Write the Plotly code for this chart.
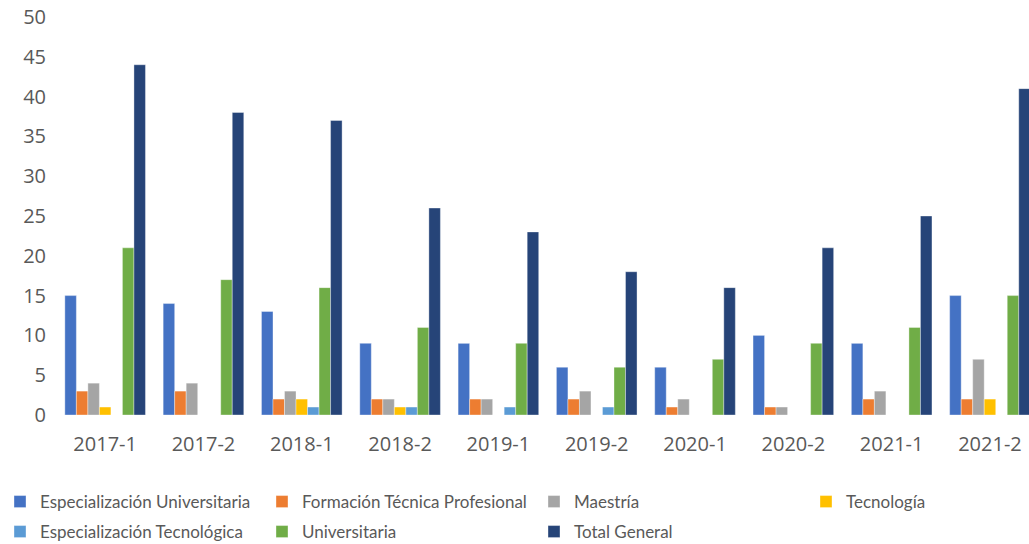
import plotly.graph_objects as go

categories = ["2017-1", "2017-2", "2018-1", "2018-2", "2019-1", "2019-2", "2020-1", "2020-2", "2021-1", "2021-2"]

esp_universitaria = [15, 14, 13, 9, 9, 6, 6, 10, 9, 15]
formacion_tecnica = [3, 3, 2, 2, 2, 2, 1, 1, 2, 2]
maestria = [4, 4, 3, 2, 2, 3, 2, 1, 3, 7]
tecnologia = [1, 0, 2, 1, 0, 0, 0, 0, 0, 2]
esp_tecnologica = [0, 0, 1, 1, 1, 1, 0, 0, 0, 0]
universitaria = [21, 17, 16, 11, 9, 6, 7, 9, 11, 15]
total_general = [44, 38, 37, 26, 23, 18, 16, 21, 25, 41]

series = [
    ("Especialización Universitaria", esp_universitaria, "#4472C4"),
    ("Formación Técnica Profesional", formacion_tecnica, "#ED7D31"),
    ("Maestría", maestria, "#A5A5A5"),
    ("Tecnología", tecnologia, "#FFC000"),
    ("Especialización Tecnológica", esp_tecnologica, "#5B9BD5"),
    ("Universitaria", universitaria, "#70AD47"),
    ("Total General", total_general, "#264478"),
]

W, H = 1029, 544
ML, MR, MT, MB = 56, 0, 17, H - 415

# legend text start positions and row centres (page px)
leg_pos = [(31, 502), (302, 502), (574, 502), (846, 502),
           (31, 532), (302, 532), (574, 532)]

fig = go.Figure()
layout_legends = {}
for i, (name, vals, color) in enumerate(series):
    lid = "legend" if i == 0 else f"legend{i+1}"
    fig.add_trace(go.Bar(
        x=categories, y=vals, name=name,
        marker=dict(color=color, line=dict(width=0.6, color="rgba(255,255,255,0.6)")),
        legend=lid,
    ))
    tx, ty = leg_pos[i]
    layout_legends[lid] = dict(
        xref="container", yref="container",
        x=max(0, (tx - 40) / W), y=1 - ty / H,
        xanchor="left", yanchor="middle",
        orientation="h",
        font=dict(family="Lato", size=17, color="#595959"),
        bgcolor="rgba(0,0,0,0)",
        itemclick=False,
    )

fig.update_layout(
    width=W, height=H,
    margin=dict(l=ML, r=MR, t=MT, b=MB, autoexpand=False),
    plot_bgcolor="white", paper_bgcolor="white",
    barmode="group", bargap=0.18, bargroupgap=0,
    showlegend=True,
    xaxis=dict(
        type="category", range=[-0.5, 9.397],
        showgrid=False, showline=False, ticks="",
        tickfont=dict(family="Open Sans", size=20, color="#595959"),
        ticklabelstandoff=15, ticklabeloverflow="allow",
    ),
    yaxis=dict(
        range=[0, 50], dtick=5, showgrid=False, showline=False, zeroline=False,
        ticks="", tickfont=dict(family="Open Sans", size=20, color="#595959"),
        ticklabelstandoff=9, ticklabeloverflow="allow",
    ),
    **layout_legends,
)

# remove the browser's default 8px body margin so the figure fills the window
fig.write_html("out.html", config={"displayModeBar": False},
               post_script="document.body.style.margin='0';")
